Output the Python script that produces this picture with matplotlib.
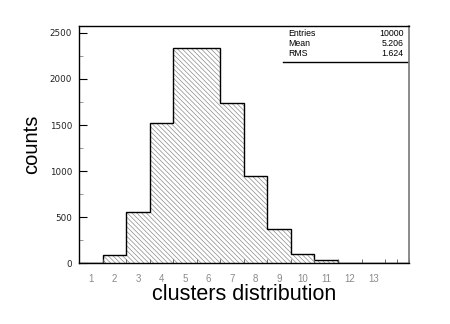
import numpy as np
import matplotlib
matplotlib.use("Agg")
import matplotlib.pyplot as plt
from matplotlib.ticker import MultipleLocator

# histogram contents, one bin per cluster count
bin_centers = np.arange(1, 15)
counts = [5, 90, 550, 1520, 2335, 2335, 1735, 945, 365, 98, 33, 0, 0, 0]
tick_labels = ["1", "2", "3", "4", "5", "6", "7", "8", "9", "10", "11", "12", "13"]
stat_names = ["Entries", "Mean", "RMS"]
stat_values = ["10000", "5.206", "1.624"]

plt.rcParams['font.family'] = ['Liberation Sans', 'DejaVu Sans']
plt.rcParams['hatch.linewidth'] = 0.5

fig = plt.figure(figsize=(4.5, 3.24), dpi=100)
ax = fig.add_axes([0.176, 0.188, 0.732, 0.733])

edges = np.append(bin_centers - 0.5, bin_centers[-1] + 0.5)
ax.stairs(counts, edges, fill=True, facecolor="white", edgecolor="#8c8c8c",
          hatch="\\" * 7, linewidth=0)
ax.stairs(counts, edges, baseline=0, color="black", linewidth=1.0)

ax.set_xlim(0.5, 14.5)
ax.set_ylim(0, 2580)

ax.set_xticks(bin_centers[:13])
ax.set_xticklabels(tick_labels, color="#8a8a8a", fontsize=7)
ax.xaxis.set_minor_locator(MultipleLocator(0.5))
ax.tick_params(axis="x", which="major", length=0, pad=8)
ax.tick_params(axis="x", which="minor", direction="in", length=3, color="#555555")

ax.yaxis.set_major_locator(MultipleLocator(500))
ax.yaxis.set_minor_locator(MultipleLocator(250))
ax.tick_params(axis="y", which="major", direction="in", length=6, pad=5)
ax.tick_params(axis="y", which="minor", direction="in", length=3, color="#888888")
for lab in ax.get_yticklabels():
    lab.set_fontfamily("DejaVu Sans")
    lab.set_fontsize(6.3)
    lab.set_color("#222222")

for s in ["left", "bottom", "top"]:
    ax.spines[s].set_linewidth(1.0)
ax.spines["right"].set_color("#777777")
ax.spines["right"].set_linewidth(1.2)

ax.set_ylabel("counts", fontsize=14.5, labelpad=6)
ax.set_xlabel("clusters distribution", fontsize=15.5, labelpad=0)

# stats box
for i in range(len(stat_names)):
    y = 0.965 - i * 0.041
    ax.text(0.634, y, stat_names[i], transform=ax.transAxes, fontsize=6.3,
            va="center", ha="left")
    ax.text(0.985, y, stat_values[i], transform=ax.transAxes, fontsize=6.3,
            va="center", ha="right")
ax.plot([0.619, 1.0], [0.848, 0.848], transform=ax.transAxes, color="black", linewidth=1.0)

fig.savefig("out.png", dpi=100)
